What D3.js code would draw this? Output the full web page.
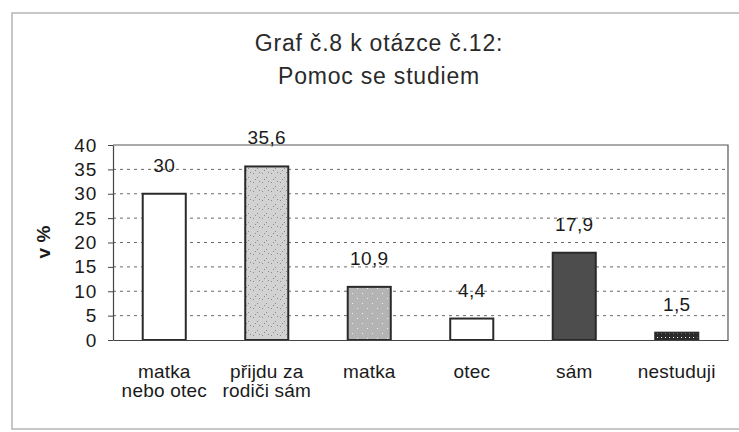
<!DOCTYPE html>
<html>
<head>
<meta charset="utf-8">
<script src="https://cdn.jsdelivr.net/npm/d3@7"></script>
<style>
  body { margin: 0; background: #fff; }
  svg { display: block; font-family: "Liberation Sans", Arial, sans-serif; }
</style>
</head>
<body>
<script>
// data
var titleLines = ["Graf č.8 k otázce č.12:", "Pomoc se studiem"];
var categories = ["matka\nnebo otec", "přijdu za\nrodiči sám", "matka", "otec", "sám", "nestuduji"];
var values = [30, 35.6, 10.9, 4.4, 17.9, 1.5];
var yTicks = [0, 5, 10, 15, 20, 25, 30, 35, 40];
var yLabel = "v %";

// look of each bar
var barFills = ["#ffffff", "url(#stipple)", "url(#stipple2)", "#ffffff", "#4d4d4d", "url(#hatch)"];

var width = 739, height = 432;
var plot = {left: 113, right: 728, top: 145, bottom: 340};

var svg = d3.select("body").append("svg")
    .attr("width", width)
    .attr("height", height);

// textures for the grey bars
var defs = svg.append("defs");
var p1 = defs.append("pattern").attr("id", "stipple")
    .attr("width", 9).attr("height", 9).attr("patternUnits", "userSpaceOnUse");
p1.append("rect").attr("width", 9).attr("height", 9).attr("fill", "#d2d2d2");
[[1, 2], [5, 6], [7, 1], [3, 8]].forEach(function(d) {
    p1.append("rect").attr("x", d[0]).attr("y", d[1]).attr("width", 1).attr("height", 1).attr("fill", "#8a8a8a");
});
var p2 = defs.append("pattern").attr("id", "stipple2")
    .attr("width", 10).attr("height", 10).attr("patternUnits", "userSpaceOnUse");
p2.append("rect").attr("width", 10).attr("height", 10).attr("fill", "#b4b4b4");
[[2, 3], [7, 8]].forEach(function(d) {
    p2.append("rect").attr("x", d[0]).attr("y", d[1]).attr("width", 1).attr("height", 1).attr("fill", "#eeeeee");
});
var p3 = defs.append("pattern").attr("id", "hatch")
    .attr("width", 4).attr("height", 4).attr("patternUnits", "userSpaceOnUse");
p3.append("rect").attr("width", 4).attr("height", 4).attr("fill", "#2b2b2b");
p3.append("rect").attr("x", 1).attr("y", 1).attr("width", 1).attr("height", 1).attr("fill", "#ffffff");

// outer frame of the chart
svg.append("rect")
    .attr("x", 12).attr("y", 13)
    .attr("width", 740).attr("height", 416)
    .attr("fill", "none")
    .attr("stroke", "#b5b5b5")
    .attr("stroke-width", 1.5);

var x = d3.scaleBand()
    .domain(categories)
    .range([plot.left, plot.right])
    .paddingInner(0.58)
    .paddingOuter(0.29);

var y = d3.scaleLinear()
    .domain([0, 40])
    .range([plot.bottom, plot.top]);

// dotted grid lines
svg.append("g")
    .selectAll("line")
    .data(yTicks.filter(function(d) { return d > 0 && d < 40; }))
    .enter()
    .append("line")
    .attr("x1", plot.left)
    .attr("x2", plot.right)
    .attr("y1", function(d) { return y(d); })
    .attr("y2", function(d) { return y(d); })
    .attr("stroke", "#6a6a6a")
    .attr("stroke-dasharray", "3,4");

// plot area border (top and right)
svg.append("path")
    .attr("d", "M" + plot.left + "," + y(40) + "H" + plot.right + "V" + y(0))
    .attr("fill", "none")
    .attr("stroke", "#555")
    .attr("stroke-width", 1.2);

// bars
svg.append("g")
    .selectAll("rect")
    .data(values)
    .enter()
    .append("rect")
    .attr("x", function(d, i) { return x(categories[i]); })
    .attr("y", function(d) { return y(d); })
    .attr("width", x.bandwidth())
    .attr("height", function(d) { return y(0) - y(d); })
    .attr("fill", function(d, i) { return barFills[i]; })
    .attr("stroke", "#2a2a2a")
    .attr("stroke-width", 2);

// value labels above bars
svg.append("g")
    .selectAll("text")
    .data(values)
    .enter()
    .append("text")
    .attr("x", function(d, i) { return x(categories[i]) + x.bandwidth() / 2; })
    .attr("y", function(d) { return y(d) - 22; })
    .attr("text-anchor", "middle")
    .attr("font-size", 19)
    .attr("letter-spacing", 0.4)
    .attr("fill", "#1a1a1a")
    .text(function(d) { return String(d).replace(".", ","); });

// y axis
var yAxis = svg.append("g")
    .attr("transform", "translate(" + plot.left + ",0)")
    .call(d3.axisLeft(y).tickValues(yTicks).tickSize(5).tickPadding(11).tickSizeOuter(0));
yAxis.select(".domain").attr("stroke", "#444").attr("stroke-width", 1.2);
yAxis.selectAll(".tick line").attr("stroke", "#444");
yAxis.selectAll(".tick text")
    .attr("font-size", 19)
    .attr("letter-spacing", 0.8)
    .attr("fill", "#1a1a1a")
    .attr("font-family", "Liberation Sans, Arial, sans-serif");

// x axis line
var xAxis = svg.append("g")
    .attr("transform", "translate(0," + plot.bottom + ")")
    .call(d3.axisBottom(x).tickSize(0).tickFormat(""));
xAxis.select(".domain").attr("stroke", "#444").attr("stroke-width", 1.2);

// category labels, wrapped on two lines
var catLabels = svg.append("g")
    .selectAll("text")
    .data(categories)
    .enter()
    .append("text")
    .attr("text-anchor", "middle")
    .attr("font-size", 19)
    .attr("letter-spacing", 0.2)
    .attr("fill", "#1a1a1a");
catLabels.each(function(d) {
    var t = d3.select(this);
    d.split("\n").forEach(function(line, k) {
        t.append("tspan")
            .attr("x", x(d) + x.bandwidth() / 2)
            .attr("y", 378 + k * 19)
            .text(line);
    });
});

// y axis title
svg.append("text")
    .attr("transform", "translate(50,242) rotate(-90)")
    .attr("text-anchor", "middle")
    .attr("font-size", 19)
    .attr("font-weight", "bold")
    .attr("fill", "#1a1a1a")
    .text(yLabel);

// chart title
svg.append("g")
    .selectAll("text")
    .data(titleLines)
    .enter()
    .append("text")
    .attr("x", 379)
    .attr("y", function(d, i) { return 51 + i * 33; })
    .attr("text-anchor", "middle")
    .attr("font-size", 23)
    .attr("letter-spacing", 0.8)
    .attr("fill", "#2a2a2a")
    .text(function(d) { return d; });
</script>
</body>
</html>
